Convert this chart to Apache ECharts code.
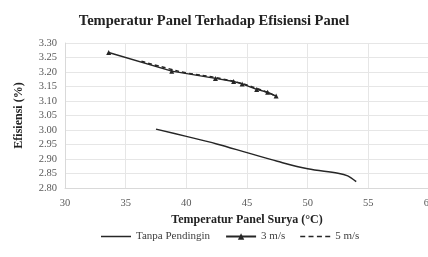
<!DOCTYPE html>
<html>
<head>
<meta charset="utf-8">
<script src="https://cdn.jsdelivr.net/npm/echarts@6/dist/echarts.min.js"></script>
<style>html,body{margin:0;padding:0;background:#fff;}#c{width:428px;height:257px;}</style>
</head>
<body>
<div id="c"></div>
<script>
const titleText = 'Temperatur Panel Terhadap Efisiensi Panel';
const xName = 'Temperatur Panel Surya (°C)';
const yName = 'Efisiensi (%)';
const seriesNames = ['Tanpa Pendingin', '3 m/s', '5 m/s'];
const tanpaX = [37.5, 40, 42.5, 45, 47.5, 50, 52.5, 53.3, 54];
const tanpaY = [3.003, 2.978, 2.952, 2.922, 2.892, 2.866, 2.851, 2.842, 2.822];
const m3X = [33.6, 38.8, 42.4, 43.9, 44.6, 45.8, 46.7, 47.4];
const m3Y = [3.267, 3.203, 3.178, 3.167, 3.159, 3.140, 3.130, 3.117];
const m5X = [36.3, 38.5, 40.0, 42.5, 45.0, 47.2];
const m5Y = [3.237, 3.212, 3.197, 3.180, 3.155, 3.120];

const zip = (a, b) => a.map((v, i) => [v, b[i]]);
const serif = '"Liberation Serif", "DejaVu Serif", serif';
const lineColor = '#262626';

const chart = echarts.init(document.getElementById('c'));
chart.setOption({
  animation: false,
  backgroundColor: '#fff',
  title: {
    text: titleText, left: 'center', top: 9,
    textStyle: { fontFamily: serif, fontWeight: 'bold', fontSize: 14.5, color: '#222' }
  },
  grid: { left: 65, right: -1, top: 43, bottom: 69, outerBoundsMode: 'none', containLabel: false },
  xAxis: {
    type: 'value', min: 30, max: 60, interval: 5,
    name: xName, nameLocation: 'middle', nameGap: 26,
    nameTextStyle: { fontFamily: serif, fontWeight: 'bold', fontSize: 12, color: '#222' },
    axisLine: { show: true, lineStyle: { color: '#d9d9d9' } },
    axisTick: { show: false },
    axisLabel: { fontFamily: serif, fontSize: 10.5, color: '#595959', margin: 10 },
    splitLine: { show: true, lineStyle: { color: '#e6e6e6' } }
  },
  yAxis: {
    type: 'value', min: 2.80, max: 3.30, interval: 0.05,
    name: yName, nameLocation: 'middle', nameGap: 40, nameRotate: 90,
    nameTextStyle: { fontFamily: serif, fontWeight: 'bold', fontSize: 12, color: '#222' },
    axisLine: { show: true, lineStyle: { color: '#d9d9d9' } },
    axisTick: { show: false },
    axisLabel: { fontFamily: serif, fontSize: 10.5, color: '#595959', margin: 8, formatter: v => v.toFixed(2) },
    splitLine: { show: true, lineStyle: { color: '#e6e6e6' } }
  },
  legend: {
    bottom: 10, left: 96, itemGap: 15, itemWidth: 30, itemHeight: 8,
    textStyle: { fontFamily: serif, fontSize: 11, color: '#404040' },
    data: [
      { name: seriesNames[0], icon: 'path://M0,0 L30,0 L30,1.5 L0,1.5 Z' },
      { name: seriesNames[1] },
      { name: seriesNames[2], icon: 'path://M0,0 L5,0 L5,1.5 L0,1.5 Z M8.3,0 L13.3,0 L13.3,1.5 L8.3,1.5 Z M16.7,0 L21.7,0 L21.7,1.5 L16.7,1.5 Z M25,0 L30,0 L30,1.5 L25,1.5 Z' }
    ]
  },
  series: [
    {
      name: seriesNames[0], type: 'line', smooth: 0.35, showSymbol: false, symbol: 'none',
      data: zip(tanpaX, tanpaY),
      lineStyle: { color: lineColor, width: 1.5 }, itemStyle: { color: lineColor }
    },
    {
      name: seriesNames[1], type: 'line', smooth: false, symbol: 'triangle', symbolSize: 5,
      data: zip(m3X, m3Y),
      lineStyle: { color: lineColor, width: 1.5 }, itemStyle: { color: lineColor }
    },
    {
      name: seriesNames[2], type: 'line', smooth: true, showSymbol: false, symbol: 'none',
      data: zip(m5X, m5Y),
      lineStyle: { color: lineColor, width: 1.5, type: [4, 3] }, itemStyle: { color: lineColor }
    }
  ]
});
</script>
</body>
</html>
